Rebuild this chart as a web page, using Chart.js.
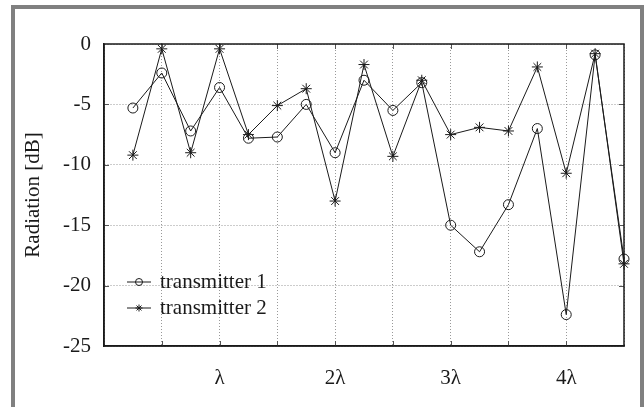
<!DOCTYPE html>
<html>
<head>
<meta charset="utf-8">
<script src="https://cdn.jsdelivr.net/npm/chart.js@4"></script>
<style>
    html, body { margin: 0; padding: 0; background: #fff; overflow: hidden; }
    #frame {
        position: absolute; left: 11px; top: 5px; width: 633px; height: 500px;
        border: 4px solid #808080; box-sizing: border-box;
    }
    #radiationChart { position: absolute; left: 0; top: 0; }
</style>
</head>
<body>
<div id="frame"></div>
<canvas id="radiationChart" width="644" height="407"></canvas>
<script>
// Antenna spacing in wavelengths (quarter-wavelength steps)
const spacing = [0.25, 0.5, 0.75, 1, 1.25, 1.5, 1.75, 2, 2.25, 2.5, 2.75, 3, 3.25, 3.5, 3.75, 4, 4.25, 4.5];

// Radiation [dB]
const transmitter1 = [-5.3, -2.4, -7.2, -3.6, -7.8, -7.7, -5.0, -9.0, -3.0, -5.5, -3.2, -15.0, -17.2, -13.3, -7.0, -22.4, -0.9, -17.8];
const transmitter2 = [-9.2, -0.4, -9.0, -0.4, -7.5, -5.1, -3.7, -13.0, -1.7, -9.3, -3.0, -7.5, -6.9, -7.2, -1.9, -10.7, -0.8, -18.2];

// x tick labels (only whole wavelengths are labelled)
const xTickLabels = { 1: 'λ', 2: '2λ', 3: '3λ', 4: '4λ' };
const yTicks = [0, -5, -10, -15, -20, -25];

const serif = "'Liberation Serif', 'DejaVu Serif', serif";
const ink = '#1a1a1a';

function toPoints(values) {
    return values.map((v, i) => ({ x: spacing[i], y: v }));
}

// Box around the plot and small inward tick marks
const boxPlugin = {
    id: 'box',
    afterDatasetsDraw(chart) {
        const { ctx, chartArea: a, scales } = chart;
        ctx.save();
        ctx.strokeStyle = '#555';
        ctx.lineWidth = 1;
        ctx.beginPath();
        scales.x.ticks.forEach(t => {
            if (t.value <= scales.x.min || t.value >= scales.x.max) return;
            const px = Math.round(scales.x.getPixelForValue(t.value)) + 0.5;
            ctx.moveTo(px, a.bottom); ctx.lineTo(px, a.bottom - 5);
            ctx.moveTo(px, a.top); ctx.lineTo(px, a.top + 5);
        });
        scales.y.ticks.forEach(t => {
            if (t.value <= scales.y.min || t.value >= scales.y.max) return;
            const py = Math.round(scales.y.getPixelForValue(t.value)) + 0.5;
            ctx.moveTo(a.left, py); ctx.lineTo(a.left + 5, py);
            ctx.moveTo(a.right, py); ctx.lineTo(a.right - 5, py);
        });
        ctx.stroke();
        ctx.strokeStyle = ink;
        ctx.lineWidth = 1.5;
        ctx.strokeRect(a.left, a.top, a.right - a.left, a.bottom - a.top);
        ctx.restore();
    }
};

// Legend drawn inside the lower left of the plot
const insideLegend = {
    id: 'insideLegend',
    afterDatasetsDraw(chart) {
        const { ctx, chartArea: a } = chart;
        const rows = [282, 308];
        ctx.save();
        chart.data.datasets.forEach((ds, i) => {
            const y = rows[i];
            const x0 = a.left + 23, x1 = a.left + 47;
            const xm = (x0 + x1) / 2;
            ctx.strokeStyle = ink;
            ctx.lineWidth = 1;
            ctx.beginPath();
            ctx.moveTo(x0, y); ctx.lineTo(x1, y);
            ctx.stroke();
            Chart.helpers.drawPoint(ctx, {
                pointStyle: ds.pointStyle, radius: 3.5, borderWidth: 1
            }, xm, y);
            ctx.fillStyle = ink;
            ctx.font = '21px ' + serif;
            ctx.textBaseline = 'middle';
            ctx.fillText(ds.label, a.left + 56, y);
        });
        ctx.restore();
    }
};

new Chart(document.getElementById('radiationChart'), {
    type: 'line',
    data: {
        datasets: [{
            label: 'transmitter 1',
            data: toPoints(transmitter1),
            borderColor: ink,
            borderWidth: 1,
            pointStyle: 'circle',
            pointRadius: 5,
            pointBorderColor: ink,
            pointBackgroundColor: 'rgba(0,0,0,0)',
            pointBorderWidth: 1,
            tension: 0
        }, {
            label: 'transmitter 2',
            data: toPoints(transmitter2),
            borderColor: ink,
            borderWidth: 1,
            pointStyle: 'star',
            pointRadius: 5.5,
            pointBorderColor: ink,
            pointBackgroundColor: 'rgba(0,0,0,0)',
            pointBorderWidth: 1,
            tension: 0
        }]
    },
    options: {
        responsive: false,
        animation: false,
        clip: false,
        layout: { padding: { top: 44, right: 18, bottom: 0, left: 0 } },
        plugins: {
            legend: { display: false },
            tooltip: { enabled: false }
        },
        scales: {
            x: {
                type: 'linear',
                min: 0,
                max: 4.5,
                afterFit: s => { s.height = 61; },
                afterBuildTicks: s => {
                    s.ticks = [];
                    for (let v = 0; v <= 9; v++) s.ticks.push({ value: v / 2 });
                },
                ticks: {
                    autoSkip: false,
                    maxRotation: 0,
                    padding: 20,
                    color: ink,
                    font: { family: serif, size: 21 },
                    callback: v => xTickLabels[v] || ''
                },
                grid: { color: '#999', drawTicks: false, lineWidth: 1 },
                border: { display: true, color: ink, width: 1.5, dash: [1, 2] }
            },
            y: {
                min: -25,
                max: 0,
                afterFit: s => { s.width = 104; },
                afterBuildTicks: s => {
                    s.ticks = yTicks.map(v => ({ value: v }));
                },
                ticks: {
                    padding: 13,
                    color: ink,
                    font: { family: serif, size: 21 },
                    callback: v => String(v)
                },
                grid: { color: '#999', drawTicks: false, lineWidth: 1 },
                border: { display: true, color: ink, width: 1.5, dash: [1, 2] },
                title: {
                    display: true,
                    text: 'Radiation [dB]',
                    color: ink,
                    font: { family: serif, size: 21 },
                    padding: { top: 21, bottom: 0 }
                }
            }
        }
    },
    plugins: [boxPlugin, insideLegend]
});
</script>
</body>
</html>
